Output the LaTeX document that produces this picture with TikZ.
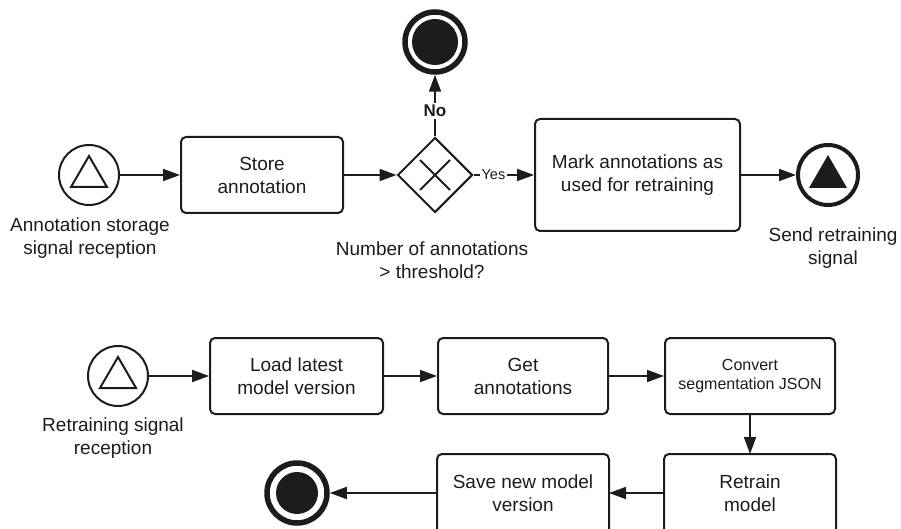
\documentclass[tikz,border=0pt]{standalone}
\usepackage{fontspec}
\setmainfont{Liberation Sans}
\usetikzlibrary{arrows.meta,shapes.geometric}
\definecolor{ink}{RGB}{28,28,28}
\begin{document}
\begin{tikzpicture}[x=1pt,y=-1pt,
  every node/.style={font=\fontsize{19}{23}\selectfont, text=ink},
  task/.style={draw=ink, line width=2pt, rounded corners=5pt, align=center, inner sep=0pt},
  cuttask/.style={align=center, inner sep=0pt, outer sep=1pt},
  boxline/.style={draw=ink, line width=2pt, rounded corners=5pt},
  startev/.style={circle, draw=ink, line width=2pt, minimum size=60pt, inner sep=0pt},
  endev/.style={circle, draw=ink, line width=5.5pt, minimum size=60pt, inner sep=0pt},
  sendev/.style={circle, draw=ink, line width=4pt, minimum size=60pt, inner sep=0pt},
  gate/.style={diamond, draw=ink, line width=2pt, minimum width=75pt, minimum height=75pt, inner sep=0pt},
  lbl/.style={align=center, inner sep=0pt},
  arr/.style={draw=ink, line width=1.8pt, -{Triangle[length=17pt,width=12pt]}},
  cond/.style={fill=white, inner sep=2pt}]
\useasboundingbox (0,0) rectangle (901,529);
\clip (0,0) rectangle (901,529);
% ---------- top process ----------
\node[startev] (s1) at (89,175) {};
\draw[ink, line width=2pt, shift={(s1.center)}] (-18,12) -- (0,-19) -- (18,12) -- cycle;
\node[lbl] (s1l) at (90,238) {Annotation storage\\signal reception};
\node[task, minimum width=162pt, minimum height=76pt] (st) at (262,175) {Store\\annotation};
\node[gate] (gw) at (435,175) {};
\draw[ink, line width=2pt, shift={(gw.center)}] (-15,-15) -- (15,15) (-15,15) -- (15,-15);
\node[lbl] (gwl) at (432,260) {Number of annotations\\> threshold?};
\node[endev] (e1) at (435,42) {};
\fill[ink] (e1.center) circle[radius=23];
\node[task, minimum width=205pt, minimum height=112pt] (mk) at (637.5,175) {Mark annotations as\\used for retraining};
\node[sendev] (se) at (828,175) {};
\fill[ink, shift={(se.center)}] (-19,13) -- (0,-20) -- (19,13) -- cycle;
\node[lbl] (sel) at (833,248) {Send retraining\\signal};
\draw[arr] (s1) -- (st);
\draw[arr] (st) -- (gw);
\draw[arr] (gw.north) -- node[pos=0.41, cond, font=\bfseries\fontsize{17}{20}\selectfont]{No} (e1.south);
\draw[arr] (gw.east) -- node[pos=0.33, cond, font=\fontsize{14.5}{17}\selectfont]{Yes} (mk.west);
\draw[arr] (mk) -- (se);
% ---------- bottom process ----------
\node[startev] (s2) at (118,376) {};
\draw[ink, line width=2pt, shift={(s2.center)}] (-18,12) -- (0,-19) -- (18,12) -- cycle;
\node[lbl] (s2l) at (113,438) {Retraining signal\\reception};
\node[task, minimum width=173pt, minimum height=76pt] (ld) at (296.5,376) {Load latest\\model version};
\node[task, minimum width=170pt, minimum height=76pt] (ga) at (523,376) {Get\\annotations};
\node[task, minimum width=170pt, minimum height=76pt, font=\fontsize{16}{19}\selectfont] (cv) at (750,376) {Convert\\segmentation JSON};
% boxes cut off by the lower edge of the picture
\node[cuttask, minimum width=170pt, minimum height=76pt] (rt) at (750,493) {Retrain\\model};
\node[cuttask, minimum width=170pt, minimum height=76pt] (sv) at (523,493) {Save new model\\version};
\draw[boxline] (rt.north west) rectangle ([yshift=-30pt]rt.south east);
\draw[boxline] (sv.north west) rectangle ([yshift=-30pt]sv.south east);
\node[endev] (e2) at (297,493) {};
\fill[ink] (e2.center) circle[radius=21];
\draw[arr] (s2) -- (ld);
\draw[arr] (ld) -- (ga);
\draw[arr] (ga) -- (cv);
\draw[arr] (cv) -- (rt);
\draw[arr] (rt) -- (sv);
\draw[arr] (sv) -- (e2);
\end{tikzpicture}
\end{document}
